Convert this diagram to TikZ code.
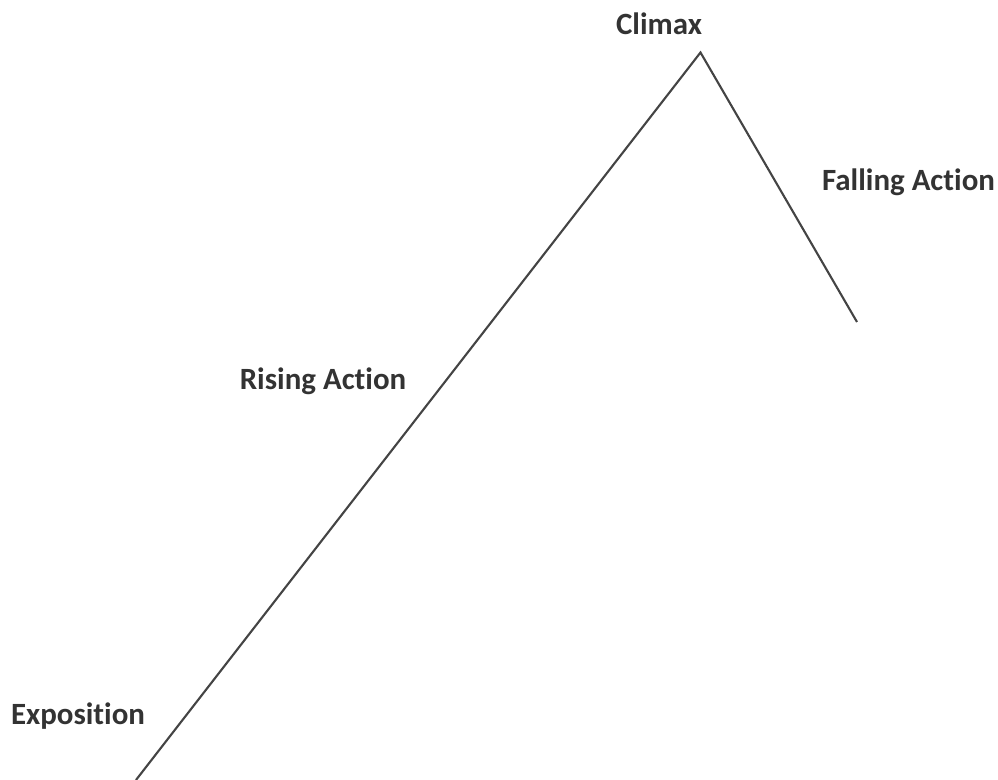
\documentclass[tikz,border=0pt]{standalone}
\usepackage{fontspec}
\setmainfont{Carlito}[Ligatures=NoCommon]
\usepackage{tikz}

\definecolor{textgray}{HTML}{333333}
\definecolor{linegray}{HTML}{444444}

\begin{document}
\begin{tikzpicture}[stage node/.style={font=\bfseries\fontsize{17.6}{21}\selectfont,text=textgray,anchor=base,inner sep=0pt}]

\useasboundingbox (0,0) rectangle (19.96,15.6);

\coordinate (p0) at (2.72,0);
\coordinate (p1) at (14.01,14.55);
\coordinate (p2) at (17.14,9.16);

\node[stage node] (climax) at (13.18,14.9) {Climax};
\node[stage node] (falling) at (18.17,11.78) {Falling Action};
\node[stage node] (rising) at (6.46,7.8) {Rising Action};
\node[stage node] (expo) at (1.56,1.1) {Exposition};

\draw[linegray, line width=1.2pt] (p0) -- (p1) -- (p2);

\end{tikzpicture}
\end{document}
